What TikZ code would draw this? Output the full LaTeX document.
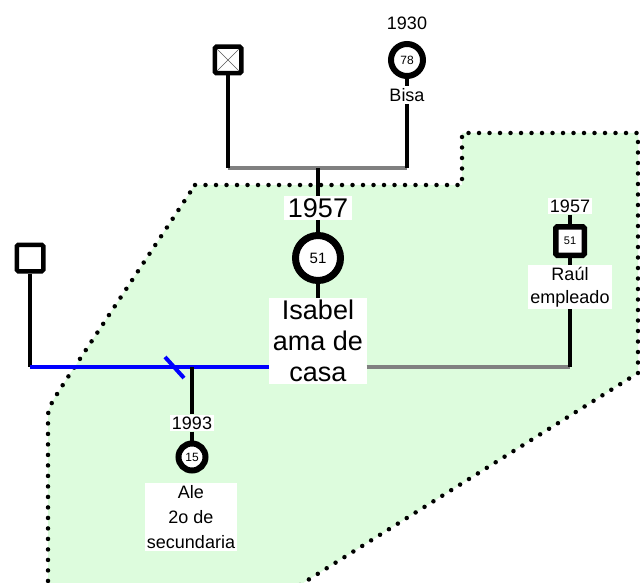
\documentclass[tikz,border=0pt]{standalone}
\usepackage{fontspec}
\setmainfont{Liberation Sans}
\definecolor{zona}{RGB}{221,252,221}
\definecolor{lazo}{RGB}{128,128,128}
\begin{document}
\begin{tikzpicture}[
    x=1pt, y=-1pt,
    varon/.style={draw, rectangle, rounded corners=1.5pt, line width=4.5pt, fill=white, minimum size=26.5pt, inner sep=0pt},
    mujer/.style={draw, circle, line width=6pt, fill=white, minimum size=32pt, inner sep=0pt, font=\fontsize{12}{12}\selectfont},
    etiqueta/.style={fill=white, inner sep=2pt, align=center, font=\fontsize{18}{23}\selectfont},
    grande/.style={fill=white, inner xsep=3.5pt, inner ysep=2pt, align=center, font=\fontsize{27}{31}\selectfont},
    linea/.style={draw, line width=4.5pt},
    pareja/.style={draw, line width=4.5pt, color=lazo},
    separada/.style={draw, line width=4pt, color=blue}
]
\useasboundingbox (0,0) rectangle (640,583);
\clip (0,0) rectangle (640,583);
% zona del hogar
\path[fill=zona, draw, line width=4.5pt, line cap=round, dash pattern=on 0pt off 10.5pt]
    (195,185) -- (462,185) -- (462,133) -- (638,133) -- (638,373) -- (292,590)
    -- (48,590) -- (48,420) .. controls (48,408) .. (66,380) -- cycle;

\node[varon, path picture={\draw[thin, gray!70!black]
        (path picture bounding box.north west) -- (path picture bounding box.south east)
        (path picture bounding box.south west) -- (path picture bounding box.north east);}]
    (difunto) at (228,60) {};
\node[etiqueta] (bisaano) at (407,23) {1930};
\node[mujer] (bisa) at (407,60) {78};
\node[etiqueta] (bisanom) at (407,95) {Bisa};
\coordinate (u1i) at (228,168);
\coordinate (u1d) at (407,168);
\coordinate (u1h) at (318,168);

\node[grande] (isaano) at (318,208) {1957};
\node[mujer, line width=7pt, minimum size=45pt, font=\fontsize{15}{15}\selectfont] (isabel) at (318,258) {51};
\node[grande] (isanom) at (318,341) {Isabel\\ama de\\casa};

\node[varon] (padre) at (30,258) {};
\coordinate (u2i) at (30,367);
\coordinate (u2d) at (570,367);
\coordinate (u2h) at (192,367);

\node[etiqueta] (raulano) at (570,206) {1957};
\node[varon, line width=5.5pt, minimum size=28.5pt, font=\fontsize{11}{11}\selectfont] (raul) at (570,241) {51};
\node[etiqueta] (raulnom) at (570,287) {Raúl\\empleado};

\node[etiqueta] (aleano) at (192,423) {1993};
\node[mujer, minimum size=27pt] (ale) at (192,457) {15};
\node[etiqueta, font=\fontsize{18}{25}\selectfont] (alenom) at (191,517) {Ale\\2o de\\secundaria};

% lazos
\draw[pareja] (u1i) -- (u1d);
\draw[linea] (difunto) -- (u1i);
\draw[linea] (bisa) -- (bisanom);
\draw[linea] (bisanom) -- (u1d);
\draw[linea] (u1h) -- (isaano);
\draw[linea] (isaano) -- (isabel);
\draw[linea] (isabel) -- (isanom);
\draw[linea] (padre) -- (u2i);
\draw[separada] (u2i) -- (u2i -| isanom.west);
\draw[separada] (165,357) -- (184,378);
\draw[pareja] (u2d -| isanom.east) -- (u2d);
\draw[linea] (raulano) -- (raul);
\draw[linea] (raul) -- (raulnom);
\draw[linea] (raulnom) -- (u2d);
\draw[linea] (u2h) -- (aleano);
\draw[linea] (aleano) -- (ale);
\end{tikzpicture}
\end{document}
